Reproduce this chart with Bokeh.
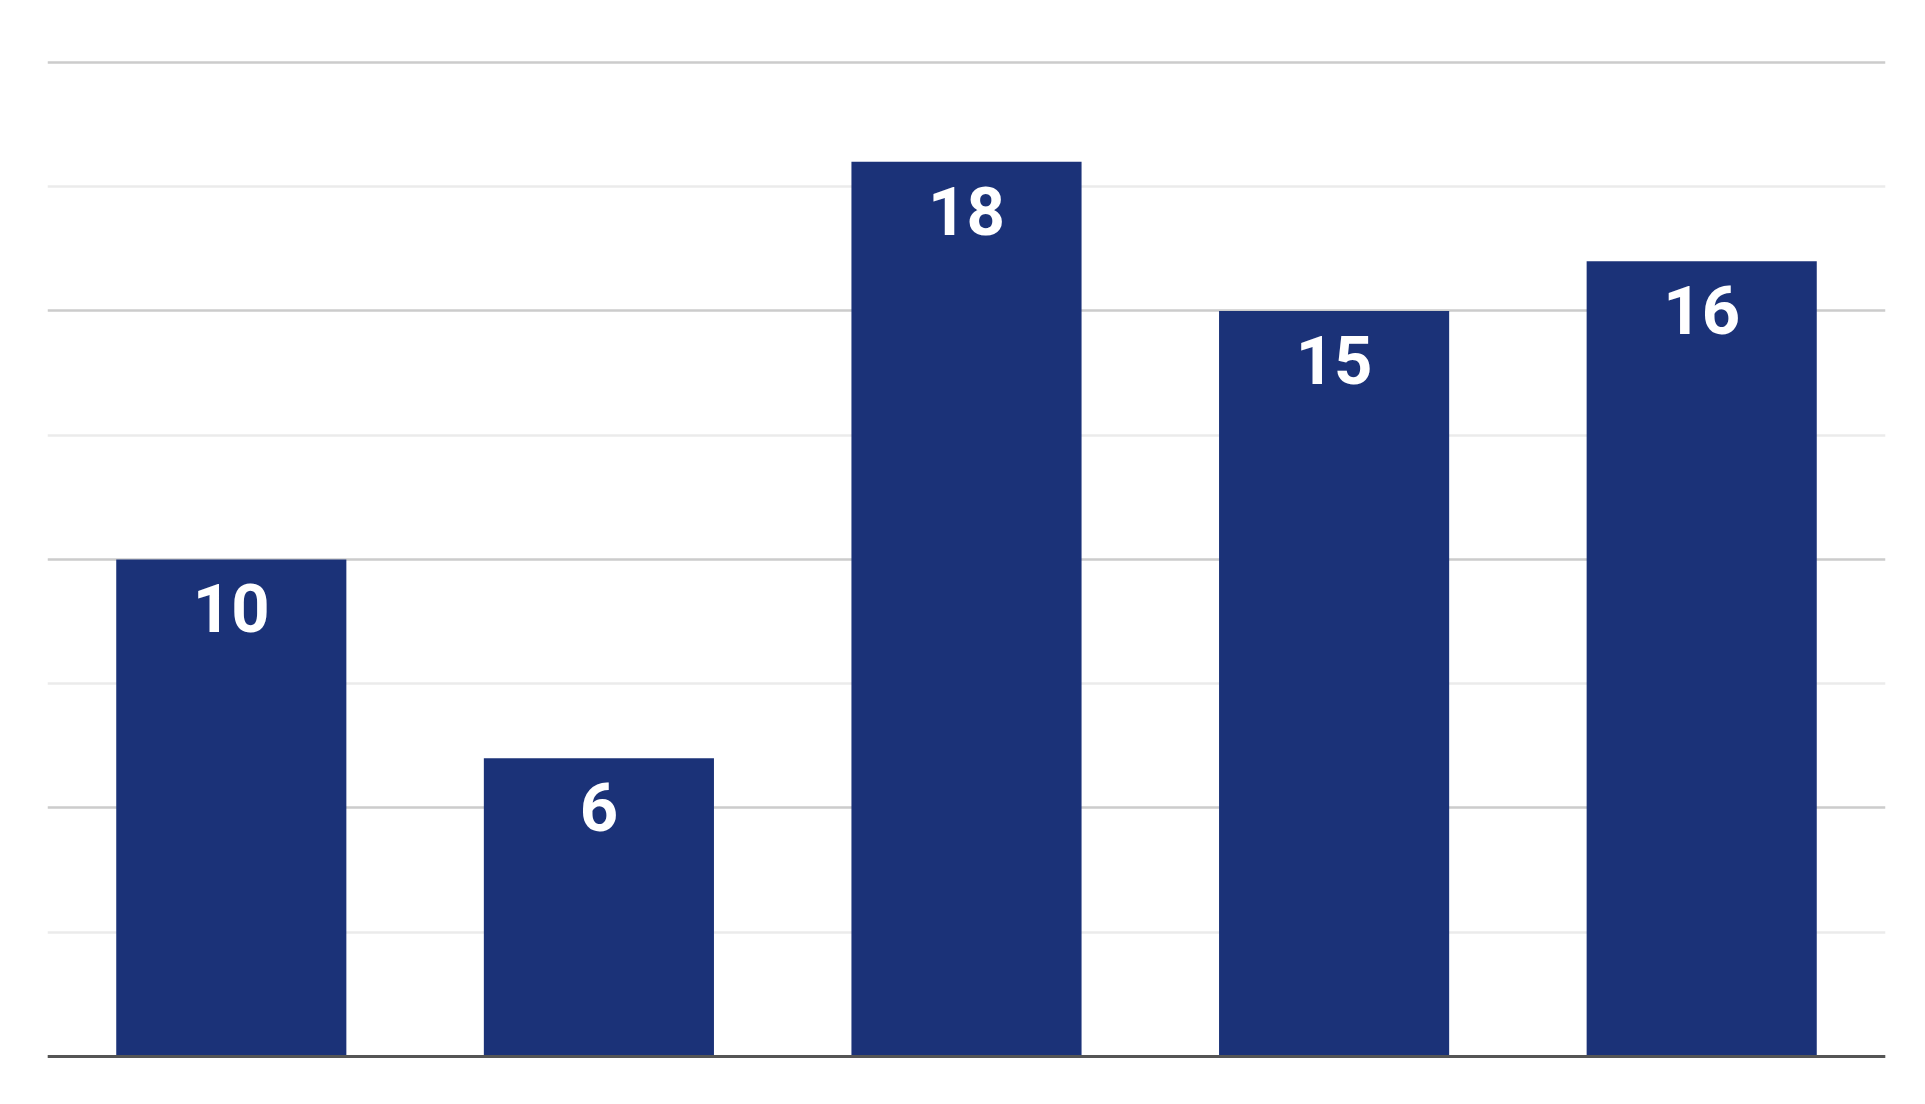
from bokeh.plotting import figure
from bokeh.models import ColumnDataSource, FixedTicker, Span, Range1d
from bokeh.core.properties import value
from bokeh.embed import file_html
from bokeh.resources import INLINE

categories = ["1", "2", "3", "4", "5"]
values = [10, 6, 18, 15, 16]
labels = ["10", "6", "18", "15", "16"]
major_ticks = [0, 5, 10, 15, 20]
minor_ticks = [2.5, 7.5, 12.5, 17.5]

src = ColumnDataSource(dict(cat=categories, val=values, lab=labels))

p = figure(x_range=categories, y_range=Range1d(-0.04, 20.2), width=1909, height=1088,
           output_backend="svg", toolbar_location=None,
           min_border_left=47, min_border_right=24, min_border_top=52, min_border_bottom=30)
p.outline_line_color = None
p.xaxis.visible = False
p.yaxis.visible = False
p.xgrid.grid_line_color = None
p.ygrid.ticker = FixedTicker(ticks=major_ticks, minor_ticks=minor_ticks)
p.ygrid.grid_line_color = "#cccccc"
p.ygrid.grid_line_width = 2.5
p.ygrid.minor_grid_line_color = "#ebebeb"
p.ygrid.minor_grid_line_width = 2.5

p.vbar(x="cat", top="val", width=0.626, source=src, fill_color="#1b3278", line_color=None)

p.add_layout(Span(location=0, dimension="width", line_color="#555555", line_width=3))

p.text(x="cat", y="val", text="lab", source=src, text_color="white",
       text_font=value("Roboto"), text_font_style="bold", text_font_size="67px",
       text_align="center", text_baseline="middle", y_offset=49)

open("out.html", "w").write(file_html(p, INLINE))
